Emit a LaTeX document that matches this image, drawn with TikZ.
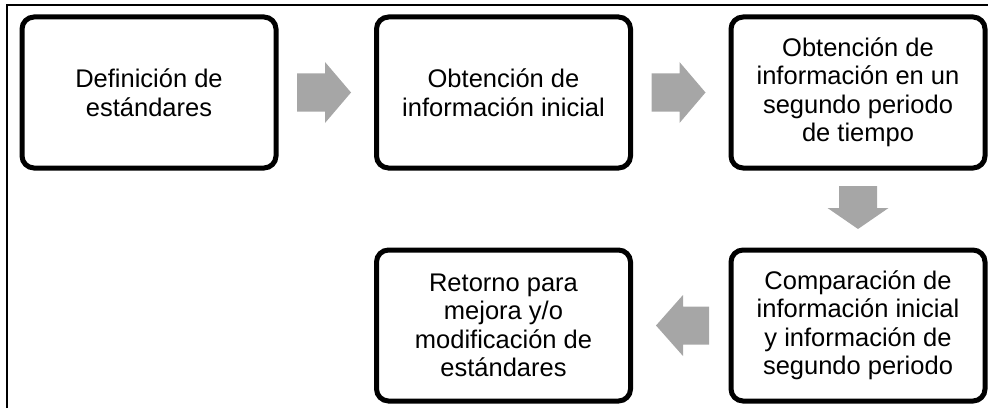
\documentclass[tikz,border=0pt]{standalone}
\usepackage{fontspec}
\setmainfont{Liberation Sans}
\usetikzlibrary{calc}
\definecolor{arrowgray}{HTML}{A6A6A6}
\tikzset{
  stage/.style={draw, line width=5pt, rounded corners=12pt,
    minimum width=254pt, minimum height=151pt, inner sep=0pt,
    align=center, font=\fontsize{25.5}{28.5}\selectfont},
  pics/blockarrow/.style 2 args={code={
    \fill[arrowgray] (0,-19) -- (#1-#2,-19) -- (#1-#2,-30.5) -- (#1,0)
      -- (#1-#2,30.5) -- (#1-#2,19) -- (0,19) -- cycle;
  }}
}

\begin{document}
\begin{tikzpicture}[x=1pt,y=1pt]
    \useasboundingbox (0,0) rectangle (988,408);

    % frame
    \draw[line width=1.5pt] (7,0) -- (7,403) -- (988,403);

    % stages
    \node[stage] (def) at (149,315.5) {Definición de\\estándares};
    \node[stage] (ini) at (503.5,315.5) {Obtención de\\información inicial};
    \node[stage] (seg) at (858,315.5) {Obtención de\\información en un\\segundo periodo\\de tiempo};
    \node[stage] (com) at (858,82.5) {Comparación de\\información inicial\\y información de\\segundo periodo};
    \node[stage] (ret) at (503.5,82.5) {Retorno para\\mejora y/o\\modificación de\\estándares};

    % arrows
    \pic at ($(def.east)+(18.5,0)$) {blockarrow={54}{26}};
    \pic at ($(ini.east)+(18.5,0)$) {blockarrow={54}{26}};
    \pic[rotate=-90] at ($(seg.south)+(0,-15.5)$) {blockarrow={43}{21}};
    \pic[rotate=180] at ($(com.west)+(-19.5,0)$) {blockarrow={53}{27}};
\end{tikzpicture}
\end{document}
